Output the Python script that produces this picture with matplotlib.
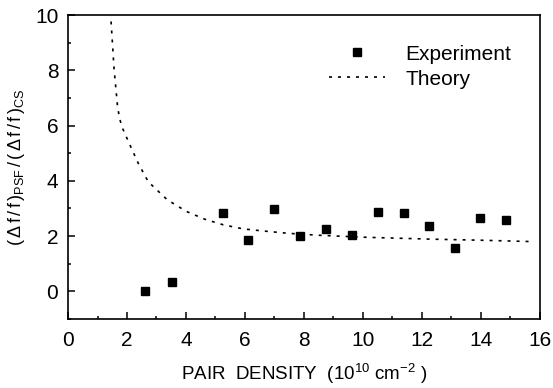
import matplotlib
matplotlib.use('Agg')
import matplotlib.pyplot as plt
from matplotlib.ticker import MultipleLocator

plt.rcParams['font.family'] = ['Liberation Sans', 'DejaVu Sans']
plt.rcParams['mathtext.fontset'] = 'custom'
plt.rcParams['mathtext.rm'] = 'Liberation Sans'
plt.rcParams['mathtext.it'] = 'Liberation Sans'

# Experiment (squares)
exp_x = [2.61, 3.51, 5.24, 6.11, 6.99, 7.86, 8.75, 9.62, 10.50, 11.38, 12.25, 13.13, 13.99, 14.87]
exp_y = [0.00, 0.35, 2.82, 1.86, 2.97, 2.00, 2.25, 2.03, 2.87, 2.83, 2.37, 1.56, 2.67, 2.60]

# Theory (dotted curve)
th_x = [1.46, 1.56, 1.68, 1.75, 1.85, 2.10, 2.38, 2.72, 3.37, 4.02, 4.64, 5.26,
        5.94, 6.57, 7.47, 8.5, 10.0, 12.27, 14.0, 15.76]
th_y = [9.77, 8.08, 6.69, 6.25, 5.90, 5.30, 4.64, 3.97, 3.31, 2.89, 2.61, 2.41,
        2.26, 2.19, 2.10, 2.03, 1.96, 1.89, 1.85, 1.80]

fig = plt.figure(figsize=(5.53, 3.88), dpi=100)
ax = fig.add_axes([0.123, 0.178, 0.853, 0.783])

ax.plot(exp_x, exp_y, 's', color='black', ms=6, label='Experiment')
ax.plot(th_x, th_y, color='black', lw=1.2, dashes=(1.8, 3.6), label='Theory')

ax.set_xlim(0, 16)
ax.set_ylim(-1, 10)
ax.xaxis.set_major_locator(MultipleLocator(2))
ax.xaxis.set_minor_locator(MultipleLocator(1))
ax.yaxis.set_major_locator(MultipleLocator(2))
ax.yaxis.set_minor_locator(MultipleLocator(1))
ax.tick_params(which='both', direction='in', width=1.1, labelsize=15)
ax.tick_params(which='major', length=5)
ax.tick_params(axis='x', which='major', pad=9)
ax.tick_params(axis='y', which='major', pad=7)
ax.tick_params(which='minor', length=2.5)
for s in ax.spines.values():
    s.set_linewidth(1.2)

ax.set_xlabel(r'PAIR  DENSITY  (10$^{10}$ cm$^{-2}$ )', fontsize=13.5, labelpad=8)
ax.set_ylabel(r'$(\,\Delta\,f\,/\,f\,)_{\rm PSF}\,/\,(\,\Delta\,f\,/\,f\,)_{\rm CS}$',
              fontsize=13, labelpad=6)

ax.legend(loc='upper right', bbox_to_anchor=(0.98, 0.965), frameon=False, fontsize=15,
          handlelength=2.7, handletextpad=1.0, labelspacing=0.3)

fig.savefig('out.png', dpi=100)
